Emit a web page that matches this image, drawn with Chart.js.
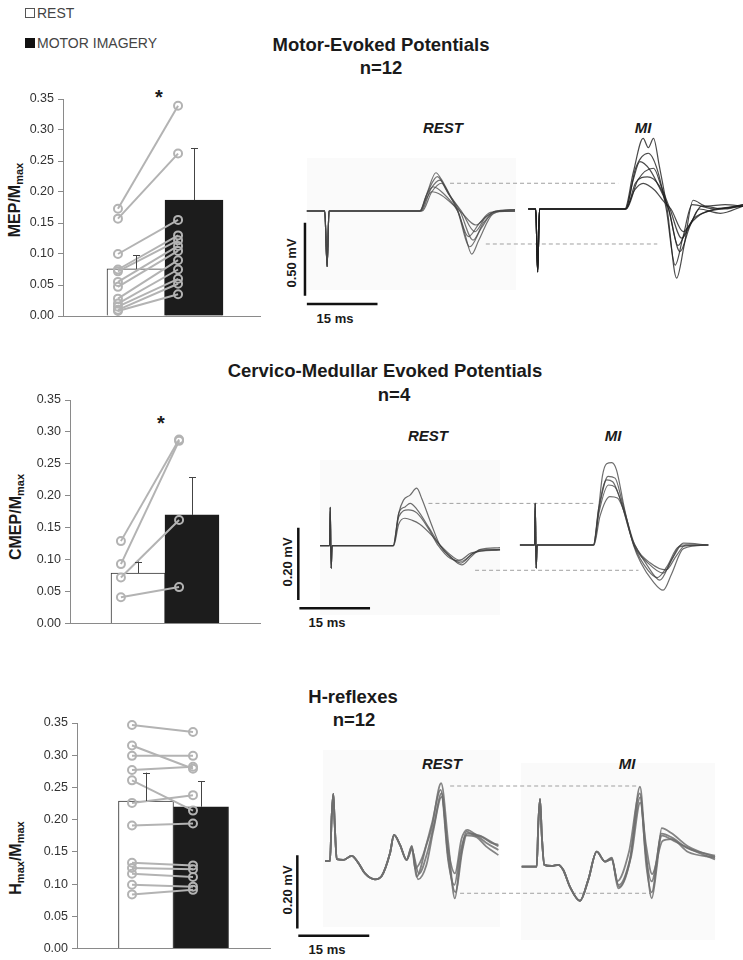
<!DOCTYPE html>
<html><head><meta charset="utf-8">
<script src="https://cdn.jsdelivr.net/npm/chart.js@4.4.1/dist/chart.umd.min.js"></script>
<style>
body{margin:0;background:#fff;}
#page{position:relative;width:743px;height:960px;overflow:hidden;font-family:"Liberation Sans",Arial,sans-serif;color:#1a1a1a;}
.c{position:absolute;white-space:nowrap;transform:translate(-50%,-50%);}
.l{position:absolute;white-space:nowrap;transform:translateY(-50%);}
.title{font-weight:bold;font-size:18.5px;}
.panel{font-weight:bold;font-style:italic;font-size:15px;}
.sc{font-weight:bold;font-size:13px;}
.rot{transform:translate(-50%,-50%) rotate(-90deg);}
.yt{font-weight:bold;font-size:16px;}
.yt sub{font-size:11px;vertical-align:-3px;}
.leg{font-size:14px;color:#444;}
.box{display:inline-block;width:8px;height:8px;border:1px solid #555;margin-right:2px;vertical-align:0px;}
.box.f{background:#111;border-color:#111;}
.ast{font-weight:bold;font-size:20px;}
.bg{position:absolute;background:#fafafa;}
canvas{position:absolute;}
</style></head>
<body><div id="page">
<div class="bg" style="left:307px;top:158px;width:209px;height:132px"></div>
<div class="bg" style="left:320px;top:460px;width:180px;height:155px"></div>
<div class="bg" style="left:323px;top:750px;width:177px;height:177px"></div>
<div class="bg" style="left:521px;top:763px;width:194px;height:177px"></div>

<div class="l leg" style="left:25px;top:13px"><span class="box"></span>REST</div>
<div class="l leg" style="left:25px;top:43px"><span class="box f"></span>MOTOR IMAGERY</div>

<div class="c title" style="left:381px;top:45px">Motor-Evoked Potentials</div>
<div class="c title" style="left:381px;top:68px">n=12</div>
<div class="c title" style="left:385px;top:371px">Cervico-Medullar Evoked Potentials</div>
<div class="c title" style="left:394px;top:395px">n=4</div>
<div class="c title" style="left:353px;top:697px">H-reflexes</div>
<div class="c title" style="left:354px;top:720px">n=12</div>

<div class="c ast" style="left:159px;top:97px">*</div>
<div class="c ast" style="left:161px;top:423px">*</div>

<div class="c yt rot" style="left:15px;top:200px">MEP/M<sub>max</sub></div>
<div class="c yt rot" style="left:16px;top:517px">CMEP/M<sub>max</sub></div>
<div class="c yt rot" style="left:16px;top:858px">H<sub>max</sub>/M<sub>max</sub></div>

<div class="c panel" style="left:443px;top:127px">REST</div>
<div class="c panel" style="left:643px;top:127px">MI</div>
<div class="c panel" style="left:428px;top:435px">REST</div>
<div class="c panel" style="left:613px;top:435px">MI</div>
<div class="c panel" style="left:442px;top:763px">REST</div>
<div class="c panel" style="left:627px;top:763px">MI</div>

<div class="c sc" style="left:335px;top:318px">15 ms</div>
<div class="c sc rot" style="left:291px;top:263px">0.50 mV</div>
<div class="c sc" style="left:327px;top:622px">15 ms</div>
<div class="c sc rot" style="left:287px;top:562px">0.20 mV</div>
<div class="c sc" style="left:327px;top:949px">15 ms</div>
<div class="c sc rot" style="left:287px;top:890px">0.20 mV</div>

<canvas id="b1" width="270" height="245" style="left:0;top:85px"></canvas>
<canvas id="b2" width="270" height="250" style="left:0;top:385px"></canvas>
<canvas id="b3" width="285" height="255" style="left:0;top:705px"></canvas>
<canvas id="t1" width="458" height="220" style="left:285px;top:110px"></canvas>
<canvas id="t2" width="458" height="180" style="left:285px;top:445px"></canvas>
<canvas id="t3" width="458" height="190" style="left:285px;top:770px"></canvas>
</div>
<script>
// ---------- DATA ----------
const groups = ['REST', 'MOTOR IMAGERY'];
const yTicks = [0, 0.05, 0.10, 0.15, 0.20, 0.25, 0.30, 0.35];

const mepMeans = [0.076, 0.187];
const mepErrors = [0.022, 0.084];
const mepRest = [0.173, 0.157, 0.100, 0.075, 0.072, 0.055, 0.047, 0.028, 0.020, 0.015, 0.010, 0.008];
const mepMI   = [0.339, 0.262, 0.155, 0.130, 0.122, 0.113, 0.105, 0.090, 0.075, 0.060, 0.052, 0.035];

const cmepMeans = [0.079, 0.170];
const cmepErrors = [0.018, 0.059];
const cmepRest = [0.129, 0.093, 0.072, 0.041];
const cmepMI   = [0.288, 0.286, 0.162, 0.057];

const hMeans = [0.229, 0.220];
const hErrors = [0.044, 0.040];
const hRest = [0.347, 0.315, 0.299, 0.277, 0.261, 0.226, 0.191, 0.133, 0.125, 0.116, 0.099, 0.084];
const hMI   = [0.336, 0.279, 0.299, 0.282, 0.214, 0.238, 0.194, 0.129, 0.123, 0.111, 0.096, 0.091];

// EMG traces: [time (ms from stimulus), amplitude (mV)]
const mepStimRest = [[-4.0,0],[-0.2,0],[0.3,-0.38],[0.7,0]];
const mepRestTraces = [
  [[20.0,0],[21.5,0.12],[23.4,0.262],[24.5,0.22],[26.5,0.10],[28.1,0],[29.5,-0.15],[31.0,-0.295],[32.5,-0.20],[35.5,-0.02],[40.2,0.01]],
  [[20.0,0],[21.8,0.14],[23.7,0.235],[25.5,0.15],[28.0,0],[30.6,-0.245],[33.0,-0.12],[36.0,0],[40.2,0]],
  [[20.3,0],[22.3,0.15],[24.3,0.212],[26.0,0.12],[28.5,0],[31.3,-0.199],[33.5,-0.08],[36.5,0],[40.2,0.01]],
  [[20.5,0],[22.5,0.13],[24.6,0.19],[26.5,0.10],[28.8,0],[31.7,-0.142],[33.8,-0.05],[36.5,0],[40.2,0]],
  [[20.0,0],[21.3,0.10],[22.8,0.166],[25.0,0.12],[28.0,0],[30.3,-0.176],[32.5,-0.09],[35.0,-0.01],[40.2,0]],
  [[20.2,0],[21.3,0.08],[22.5,0.132],[24.5,0.11],[28.5,0],[31.9,-0.096],[34.0,-0.04],[36.5,0],[40.2,0]]
];
const mepStimMI = [[-1.8,0],[-0.2,0],[0.2,-0.43],[0.6,0]];
const mepMITraces = [
  [[18.7,0],[20.5,0.25],[22.6,0.484],[23.7,0.42],[24.8,0.484],[26.0,0.30],[27.7,0],[29.7,-0.473],[31.3,-0.25],[33.2,0.06],[36.0,0.02],[40.0,0.03],[43.8,0.02]],
  [[18.9,0],[21.0,0.28],[23.7,0.382],[25.5,0.28],[27.5,0],[29.4,-0.384],[31.0,-0.20],[33.0,0.03],[38.0,0],[43.8,0.03]],
  [[18.8,0],[20.5,0.20],[21.9,0.324],[24.0,0.27],[26.0,0.15],[28.0,0],[30.4,-0.292],[32.5,-0.12],[34.5,0],[39.0,-0.03],[43.8,0.02]],
  [[19.0,0],[21.5,0.20],[24.8,0.279],[26.5,0.15],[28.3,0],[30.8,-0.20],[33.0,-0.08],[35.0,0.02],[40.0,0],[43.8,0.03]],
  [[18.8,0],[20.8,0.13],[22.6,0.176],[25.0,0.13],[27.0,0.05],[28.5,0],[31.1,-0.155],[33.5,-0.06],[36.0,-0.02],[43.8,0.02]],
  [[19.0,0],[21.0,0.18],[23.5,0.22],[26.0,0.16],[28.0,0],[30.0,-0.25],[32.0,-0.13],[34.7,-0.04],[38.0,0],[43.8,0.02]]
];
const mepDashTop = [[26.4,0.19],[62.1,0.19]];
const mepDashBottom = [[34.0,-0.226],[70.4,-0.226]];
const mepBarV = [[-4.4,-0.08],[-4.4,-0.58]];   // 0.50 mV
const mepBarH = [[-4.0,-0.637],[11.0,-0.637]]; // 15 ms

const cmepStimRest = [[-2.1,0],[-0.1,0],[0.05,0.106],[0.25,-0.0625],[0.45,0]];
const cmepRestTraces = [
  [[13.4,0],[14.6,0.09],[15.6,0.126],[17.0,0.14],[18.4,0.159],[19.5,0.13],[21.5,0.06],[23.4,0],[25.5,-0.03],[28.0,-0.053],[30.0,-0.03],[31.8,-0.012],[36.1,-0.01]],
  [[13.4,0],[14.6,0.09],[16.0,0.108],[17.0,0.117],[18.5,0.10],[21.0,0.05],[23.4,0],[25.5,-0.03],[27.8,-0.048],[30.0,-0.025],[32.0,-0.01],[36.1,-0.005]],
  [[13.5,0],[14.6,0.08],[16.6,0.099],[18.5,0.09],[21.0,0.045],[23.0,0],[25.5,-0.035],[28.0,-0.043],[30.5,-0.02],[36.1,-0.01]],
  [[13.5,0],[14.6,0.06],[15.9,0.076],[17.5,0.07],[19.0,0.06],[21.5,0.03],[23.5,0],[26.0,-0.03],[27.5,-0.04],[30.0,-0.02],[36.1,-0.012]]
];
const cmepStimMI = [[-3.2,0],[-0.1,0],[0.05,0.115],[0.25,-0.064],[0.45,0]];
const cmepMITraces = [
  [[12.4,0],[13.5,0.10],[14.3,0.19],[15.2,0.225],[16.3,0.228],[17.3,0.208],[19.0,0.10],[20.9,0],[22.5,-0.05],[25.0,-0.10],[27.2,-0.125],[29.0,-0.08],[31.5,-0.01],[36.8,0]],
  [[12.4,0],[13.5,0.10],[15.2,0.18],[16.5,0.175],[18.0,0.13],[20.5,0.02],[21.2,0],[24.0,-0.06],[26.5,-0.097],[29.0,-0.04],[31.0,0],[36.8,0]],
  [[12.5,0],[13.6,0.09],[15.6,0.166],[17.0,0.16],[18.5,0.11],[21.0,0],[24.0,-0.05],[27.2,-0.078],[29.5,-0.03],[31.5,0.005],[36.8,0]],
  [[12.5,0],[13.8,0.08],[15.9,0.134],[17.5,0.13],[19.0,0.09],[21.2,0],[24.5,-0.05],[27.8,-0.069],[30.0,-0.03],[32.0,0],[36.8,0]],
  [[12.4,0],[13.6,0.10],[15.5,0.19],[17.0,0.185],[18.5,0.12],[21.0,0],[24.0,-0.07],[26.0,-0.09],[28.0,-0.06],[30.5,-0.005],[36.8,0]]
];
const cmepDashTop = [[20.9,0.117],[55.9,0.117]];
const cmepDashBottom = [[30.8,-0.068],[65.5,-0.068]];
const cmepBarV = [[-6.73,0.05],[-6.73,-0.15]];   // 0.20 mV
const cmepBarH = [[-6.5,-0.173],[8.5,-0.173]];   // 15 ms

const hEarlyRest = [[-1.06,0],[0,0],[0.35,0.12],[0.7,0.183],[1.0,0.10],[1.42,0.005],[2.81,0.003],[4.59,0.014],[5.98,-0.005],[7.4,-0.034],[9.51,-0.05],[10.93,-0.041],[12.68,0.021],[13.53,0.071],[14.8,0.044],[16.2,0.003]];
const hRestTraces = [
  [[17.3,0.041],[18.3,-0.043],[20.4,0.044],[21.5,0.09],[23.5,0.212],[25.0,0.05],[26.4,-0.102],[27.5,0],[28.9,0.08],[30.5,0.07],[32.1,0.066],[34.0,0.05],[35.6,0.044]],
  [[17.3,0.035],[18.6,-0.05],[20.4,-0.01],[21.8,0.08],[23.6,0.175],[25.0,0.03],[26.4,-0.034],[27.8,0.06],[29.0,0.085],[31.0,0.07],[33.0,0.05],[35.6,0.03]],
  [[17.3,0.04],[18.0,-0.02],[19.5,0.01],[21.5,0.10],[23.4,0.194],[25.0,0],[26.3,-0.065],[27.5,0.02],[28.7,0.07],[31.0,0.065],[33.0,0.04],[35.6,0.016]],
  [[17.3,0.03],[18.8,-0.035],[20.5,0.02],[22.0,0.10],[23.6,0.185],[24.9,0.02],[26.5,-0.085],[28.0,0.03],[29.0,0.075],[31.5,0.07],[35.6,0.04]]
];
const hEarlyMI = [[-3.17,0],[0,0],[0.35,0.12],[0.7,0.184],[1.1,0.08],[1.61,0.005],[3.17,0.002],[4.57,0.005],[5.62,-0.009],[7.04,-0.055],[9.15,-0.093],[10.9,-0.036],[12.68,0.041],[14.44,0.014]];
const hMITraces = [
  [[15.86,0.023],[17.25,-0.059],[19.73,0.018],[21.84,0.218],[23.0,0.05],[24.31,-0.086],[25.4,0],[26.43,0.105],[28.54,0.091],[32.05,0.055],[37.7,0.026]],
  [[15.86,0.02],[17.3,-0.05],[19.7,0.02],[21.9,0.19],[23.0,0.04],[24.3,-0.04],[26.5,0.085],[29.0,0.07],[33.0,0.045],[37.7,0.02]],
  [[15.9,0.025],[17.0,-0.04],[19.5,0.04],[21.8,0.20],[23.2,0],[24.3,-0.07],[26.4,0.09],[28.5,0.08],[32.0,0.05],[37.7,0.03]],
  [[15.8,0.02],[17.4,-0.055],[20.0,0.03],[21.9,0.175],[23.1,0.06],[24.4,-0.02],[26.6,0.07],[28.5,0.075],[32.0,0.04],[37.7,0.025]]
];
const hDashTop = [[25.4,0.2045],[65.2,0.2045]];
const hDashBottom = [[27.5,-0.088],[67.7,-0.088]];
const hBarV = [[-6.91,0.016],[-6.91,-0.184]];  // 0.20 mV
const hBarH = [[-6.7,-0.204],[8.3,-0.204]];    // 15 ms

// ---------- RENDERING ----------
const FONT = '"Liberation Sans", Arial, sans-serif';

const errorBarPlugin = {
  id: 'errorBars',
  afterDatasetsDraw(chart) {
    const ctx = chart.ctx, ys = chart.scales.y;
    chart.data.datasets.forEach((ds, di) => {
      if (!ds.errors) return;
      const meta = chart.getDatasetMeta(di);
      meta.data.forEach((el, i) => {
        const top = ys.getPixelForValue(ds.data[i].y + ds.errors[i]);
        const x = Math.round(el.x) + 0.5;
        ctx.save();
        ctx.strokeStyle = '#444'; ctx.lineWidth = 1;
        ctx.beginPath();
        ctx.moveTo(x, el.y);
        ctx.lineTo(x, top);
        ctx.moveTo(x - 3.5, Math.round(top) + 0.5);
        ctx.lineTo(x + 3.5, Math.round(top) + 0.5);
        ctx.stroke();
        ctx.restore();
      });
    });
  }
};

function barChart(id, c) {
  const datasets = [
    {type:'bar', label:groups[0], data:[{x:c.barX[0], y:c.means[0]}], errors:[c.errors[0]], backgroundColor:'#ffffff', borderColor:'#333', borderWidth:1, order:2,
     barThickness:c.barW, grouped:false},
    {type:'bar', label:groups[1], data:[{x:c.barX[1], y:c.means[1]}], errors:[c.errors[1]], backgroundColor:'#1c1c1c', borderColor:'#1c1c1c', borderWidth:1, order:2,
     barThickness:c.barW, grouped:false}
  ];
  c.rest.forEach((v, i) => {
    datasets.push({type:'line', label:'s' + (i + 1), order:1, clip:false,
      data:[{x:c.px[0], y:v}, {x:c.px[1], y:c.mi[i]}],
      borderColor:'#b3b3b3', borderWidth:2, pointRadius:4, pointBorderWidth:2,
      pointBorderColor:'#b3b3b3', pointBackgroundColor:'rgba(0,0,0,0)', fill:false, tension:0});
  });
  new Chart(document.getElementById(id), {
    type:'bar',
    data: {datasets},
    plugins:[errorBarPlugin],
    options: {
      responsive:false, animation:false,
      layout:{padding:{top:c.padTop, right:c.padRight, left:0, bottom:0}},
      plugins:{legend:{display:false}, tooltip:{enabled:false}},
      scales:{
        x:{type:'linear', min:0, max:1, offset:false, grid:{display:false, drawTicks:false, offset:false}, border:{display:true, color:'#8a8a8a'}, ticks:{display:false},
           afterFit:s=>{s.height = c.bottomGap;}},
        y:{min:0, max:0.35, afterBuildTicks:s=>{s.ticks = yTicks.map(v=>({value:v}));},
           ticks:{callback:v=>Number(v).toFixed(2), font:{size:12.5, family:FONT}, color:'#333', padding:4},
           grid:{drawOnChartArea:false, drawTicks:true, tickLength:5, color:'#8a8a8a'},
           border:{color:'#8a8a8a'},
           afterFit:s=>{s.width = c.axisLeft;}}
      }
    }
  });
}

barChart('b1', {means:mepMeans, errors:mepErrors, rest:mepRest, mi:mepMI, barX:[0.3706,0.665], barW:58, px:[0.279,0.584], padTop:14, padRight:10, bottomGap:14, axisLeft:63});
barChart('b2', {means:cmepMeans, errors:cmepErrors, rest:cmepRest, mi:cmepMI, barX:[0.358,0.642], barW:54, px:[0.268,0.574], padTop:15, padRight:10, bottomGap:10, axisLeft:70});
barChart('b3', {means:hMeans, errors:hErrors, rest:hRest, mi:hMI, barX:[0.3575,0.6425], barW:55, px:[0.285,0.601], padTop:18, padRight:15, bottomGap:9, axisLeft:77});

function pts(arr) { return arr.map(p => ({x:p[0], y:p[1]})); }

function traceChart(id, c) {
  const W = c.width, H = c.height;
  const rng = (originPx, startPx, sizePx, perUnit, flip) => {
    if (!flip) { const min = -(originPx - startPx) / perUnit; return {min, max:min + sizePx / perUnit}; }
    const max = (originPx - startPx) / perUnit; return {min:max - sizePx / perUnit, max};
  };
  const xr = rng(c.restO[0], c.left, W, c.pxMs), xm = rng(c.miO[0], c.left, W, c.pxMs);
  const yr = rng(c.restO[1], c.top, H, c.pxMv, true), ym = rng(c.miO[1], c.top, H, c.pxMv, true);
  const base = {showLine:true, pointRadius:0, fill:false, cubicInterpolationMode:'monotone'};
  const ds = [];
  c.restTraces.forEach(t => ds.push(Object.assign({}, base, {data:pts(c.restStim.concat(t)), xAxisID:'xr', yAxisID:'yr', borderColor:c.restColor, borderWidth:c.lw})));
  c.miTraces.forEach(t => ds.push(Object.assign({}, base, {data:pts(c.miStim.concat(t)), xAxisID:'xm', yAxisID:'ym', borderColor:c.miColor, borderWidth:c.lw})));
  [c.dashTop, c.dashBottom].forEach(d => ds.push({showLine:true, pointRadius:0, data:pts(d), xAxisID:'xr', yAxisID:'yr', borderColor:'#a0a0a0', borderWidth:1, borderDash:[4,3]}));
  [c.barV, c.barH].forEach(d => ds.push({showLine:true, pointRadius:0, data:pts(d), xAxisID:'xr', yAxisID:'yr', borderColor:'#111', borderWidth:2.5, borderCapStyle:'butt'}));
  new Chart(document.getElementById(id), {
    type:'scatter',
    data:{datasets:ds},
    options:{
      responsive:false, animation:false,
      layout:{padding:0},
      plugins:{legend:{display:false}, tooltip:{enabled:false}},
      scales:{
        xr:{type:'linear', display:false, min:xr.min, max:xr.max},
        xm:{type:'linear', display:false, min:xm.min, max:xm.max},
        yr:{type:'linear', display:false, min:yr.min, max:yr.max},
        ym:{type:'linear', display:false, min:ym.min, max:ym.max}
      }
    }
  });
}

traceChart('t1', {left:285, top:110, width:458, height:220, restO:[325.7,211], miO:[536.7,209], pxMs:4.71, pxMv:146,
  restStim:mepStimRest, restTraces:mepRestTraces, miStim:mepStimMI, miTraces:mepMITraces,
  restColor:'rgba(70,70,70,0.75)', miColor:'rgba(30,30,30,0.8)', lw:1.2,
  dashTop:mepDashTop, dashBottom:mepDashBottom, barV:mepBarV, barH:mepBarH});
traceChart('t2', {left:285, top:445, width:458, height:180, restO:[330,545.7], miO:[535,545], pxMs:4.71, pxMv:361.5,
  restStim:cmepStimRest, restTraces:cmepRestTraces, miStim:cmepStimMI, miTraces:cmepMITraces,
  restColor:'rgba(60,60,60,0.75)', miColor:'rgba(60,60,60,0.75)', lw:1.2,
  dashTop:cmepDashTop, dashBottom:cmepDashBottom, barV:cmepBarV, barH:cmepBarH});
traceChart('t3', {left:285, top:770, width:458, height:190, restO:[330,861], miO:[536.7,866.7], pxMs:4.73, pxMv:366.7,
  restStim:hEarlyRest, restTraces:hRestTraces, miStim:hEarlyMI, miTraces:hMITraces,
  restColor:'rgba(110,110,110,0.85)', miColor:'rgba(110,110,110,0.85)', lw:1.8,
  dashTop:hDashTop, dashBottom:hDashBottom, barV:hBarV, barH:hBarH});
</script>
</body></html>
